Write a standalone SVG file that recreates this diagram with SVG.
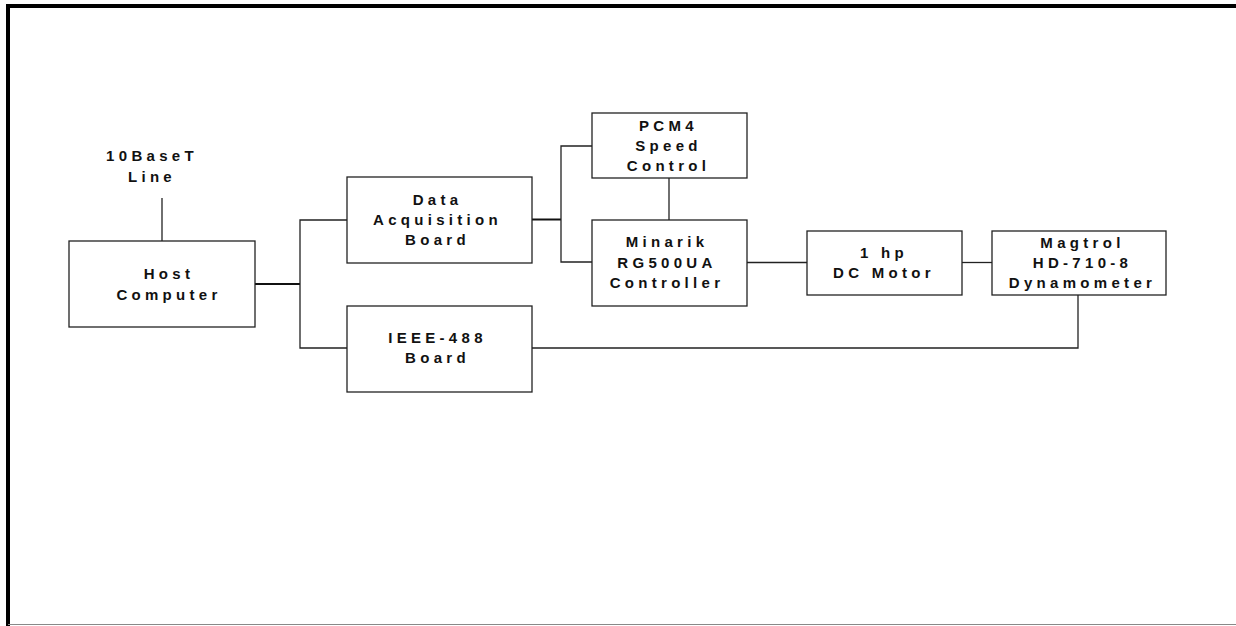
<svg xmlns="http://www.w3.org/2000/svg" width="1236" height="626" viewBox="0 0 1236 626">
<style>
.box{fill:#fff;stroke:#222;stroke-width:1.3}
.t{font-family:"Liberation Sans",Arial,sans-serif;font-weight:bold;font-size:15px;letter-spacing:4.3px;fill:#111;text-anchor:middle}
.c{fill:none;stroke:#222;stroke-width:1.3}
.ct{fill:none;stroke:#111;stroke-width:2}
</style>
<rect x="0" y="0" width="1236" height="626" fill="#fff"/>
<g id="frame">
<line x1="6" y1="6" x2="1236" y2="6" stroke="#000" stroke-width="4"/>
<line x1="8" y1="4" x2="8" y2="626" stroke="#000" stroke-width="4"/>
<line x1="8" y1="624.5" x2="1236" y2="624.5" stroke="#888" stroke-width="1"/>
</g>
<g id="connectors">
<line class="c" x1="162" y1="198" x2="162" y2="241"/>
<line class="ct" x1="255" y1="284" x2="300" y2="284"/>
<polyline class="c" points="347,220 300,220 300,348 347,348"/>
<line class="ct" x1="532" y1="219.5" x2="561" y2="219.5"/>
<polyline class="c" points="592,146 561,146 561,262 592,262"/>
<line class="c" x1="669" y1="178" x2="669" y2="220"/>
<line class="c" x1="747" y1="262.5" x2="807" y2="262.5"/>
<line class="c" x1="962" y1="262.5" x2="992" y2="262.5"/>
<polyline class="c" points="1078,295 1078,348 532,348"/>
</g>
<g id="line10baset">
<text class="t" x="152" y="161">10BaseT</text>
<text class="t" x="152" y="181.5">Line</text>
</g>
<g id="host">
<rect class="box" x="69" y="241" width="186" height="86"/>
<text class="t" x="169" y="279">Host</text>
<text class="t" x="169" y="299.5">Computer</text>
</g>
<g id="daq">
<rect class="box" x="347" y="177" width="185" height="86"/>
<text class="t" x="437.5" y="205">Data</text>
<text class="t" x="437.5" y="225">Acquisition</text>
<text class="t" x="437.5" y="245">Board</text>
</g>
<g id="ieee">
<rect class="box" x="347" y="306" width="185" height="86"/>
<text class="t" x="437.5" y="342.5">IEEE-488</text>
<text class="t" x="437.5" y="362.5">Board</text>
</g>
<g id="pcm4">
<rect class="box" x="592" y="113" width="155" height="65"/>
<text class="t" x="668.5" y="131">PCM4</text>
<text class="t" x="668.5" y="151">Speed</text>
<text class="t" x="668.5" y="171">Control</text>
</g>
<g id="minarik">
<rect class="box" x="592" y="220" width="155" height="86"/>
<text class="t" x="667" y="247">Minarik</text>
<text class="t" x="667" y="267.5">RG500UA</text>
<text class="t" x="667" y="287.5">Controller</text>
</g>
<g id="motor">
<rect class="box" x="807" y="231" width="155" height="64"/>
<text class="t" x="884" y="257.5">1 hp</text>
<text class="t" x="884" y="277.5">DC Motor</text>
</g>
<g id="magtrol">
<rect class="box" x="992" y="231" width="174" height="64"/>
<text class="t" x="1082.5" y="247.5">Magtrol</text>
<text class="t" x="1082.5" y="267.5">HD-710-8</text>
<text class="t" x="1082.5" y="287.5">Dynamometer</text>
</g>
</svg>
